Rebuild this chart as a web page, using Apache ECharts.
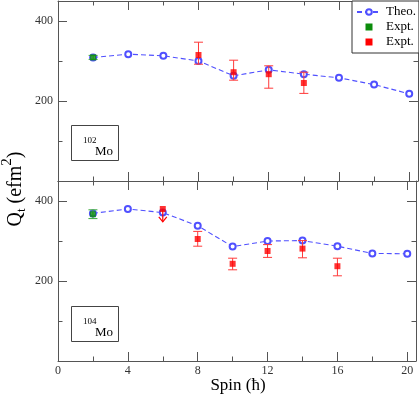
<!DOCTYPE html>
<html>
<head>
<meta charset="utf-8">
<script src="https://cdn.jsdelivr.net/npm/echarts@6/dist/echarts.min.js"></script>
<style>html,body{margin:0;padding:0;background:#fff}#c{width:419px;height:397px}</style>
</head>
<body>
<div id="c"></div>
<script>
// ---- data ----
const spin = [2, 4, 6, 8, 10, 12, 14, 16, 18, 20];
const theo102 = [309, 317, 313, 300, 263, 278, 267, 258, 241, 218];
const theo104 = [369, 380, 371, 338, 286, 300, 301, 287, 269, 268];

const green102X = [2], green102 = [309], green102Lo = [304], green102Hi = [314];
const red102X = [8, 10, 12, 14];
const red102 = [315, 272, 267, 245];
const red102Lo = [292, 252, 232, 219];
const red102Hi = [347, 302, 288, 272];

const green104X = [2], green104 = [367], green104Lo = [356], green104Hi = [378];
const red104X = [6, 8, 10, 12, 14, 16];
const red104 = [380, 305, 243, 275, 281, 237];
const red104ErrX = [8, 10, 12, 14, 16];
const red104Lo = [287, 228, 259, 258, 213];
const red104Hi = [324, 257, 291, 301, 257];
const arrow104X = [6], arrow104From = [380], arrow104To = [348];

const xTickLabels = [0, 4, 8, 12, 16, 20];
const yTickLabels = [200, 400];

// ---- chart ----
const FONT = 'Liberation Serif';
const AX = '#555';
const chart = echarts.init(document.getElementById('c'));

function xAxes(gi, labels) {
  const base = {type: 'value', gridIndex: gi, min: 0, max: 20.5, splitLine: {show: false}};
  return [
    Object.assign({}, base, {position: 'bottom', interval: 4,
      axisLine: {show: true, onZero: false, lineStyle: {color: AX}},
      axisTick: {show: true, inside: true, length: 9, lineStyle: {color: AX}},
      axisLabel: {show: labels, margin: 4, color: '#333', fontSize: 12, fontFamily: FONT,
        formatter: v => xTickLabels.indexOf(v) >= 0 ? String(v) : ''}}),
    Object.assign({}, base, {position: 'bottom', interval: 2,
      axisLine: {show: false, onZero: false}, axisLabel: {show: false},
      axisTick: {show: true, inside: true, length: 4.5, lineStyle: {color: AX}}}),
    Object.assign({}, base, {position: 'top', interval: 4,
      axisLine: {show: true, onZero: false, lineStyle: {color: AX}}, axisLabel: {show: false},
      axisTick: {show: true, inside: true, length: 9, lineStyle: {color: AX}}}),
    Object.assign({}, base, {position: 'top', interval: 2,
      axisLine: {show: false, onZero: false}, axisLabel: {show: false},
      axisTick: {show: true, inside: true, length: 4.5, lineStyle: {color: AX}}})
  ];
}
function yAxes(gi) {
  const base = {type: 'value', gridIndex: gi, min: 0, max: 450, splitLine: {show: false}};
  return [
    Object.assign({}, base, {position: 'left', interval: 200,
      axisLine: {show: true, onZero: false, lineStyle: {color: AX}},
      axisTick: {show: true, inside: true, length: 9, lineStyle: {color: AX}},
      axisLabel: {show: true, margin: 5, color: '#333', fontSize: 12, fontFamily: FONT,
        formatter: v => yTickLabels.indexOf(v) >= 0 ? String(v) : ''}}),
    Object.assign({}, base, {position: 'left', interval: 100,
      axisLine: {show: false, onZero: false}, axisLabel: {show: false},
      axisTick: {show: true, inside: true, length: 4.5, lineStyle: {color: AX}}}),
    Object.assign({}, base, {position: 'right', interval: 200,
      axisLine: {show: true, onZero: false, lineStyle: {color: AX}}, axisLabel: {show: false},
      axisTick: {show: true, inside: true, length: 9, lineStyle: {color: AX}}}),
    Object.assign({}, base, {position: 'right', interval: 100,
      axisLine: {show: false, onZero: false}, axisLabel: {show: false},
      axisTick: {show: true, inside: true, length: 4.5, lineStyle: {color: AX}}})
  ];
}

function errBars(name, xs, lo, hi, color, xi, yi) {
  return {
    type: 'custom', name: name, xAxisIndex: xi, yAxisIndex: yi, z: 3,
    data: xs.map((x, i) => [x, lo[i], hi[i]]),
    encode: {x: 0, y: [1, 2]},
    renderItem: function (params, api) {
      const x = api.value(0);
      const a = api.coord([x, api.value(1)]);
      const b = api.coord([x, api.value(2)]);
      const w = 4.5;
      const st = {stroke: color, lineWidth: 1};
      return {type: 'group', children: [
        {type: 'line', shape: {x1: a[0], y1: a[1], x2: b[0], y2: b[1]}, style: st},
        {type: 'line', shape: {x1: a[0] - w, y1: a[1], x2: a[0] + w, y2: a[1]}, style: st},
        {type: 'line', shape: {x1: b[0] - w, y1: b[1], x2: b[0] + w, y2: b[1]}, style: st}
      ]};
    }
  };
}
function arrows(name, xs, from, to, color, xi, yi) {
  return {
    type: 'custom', name: name, xAxisIndex: xi, yAxisIndex: yi, z: 3,
    data: xs.map((x, i) => [x, from[i], to[i]]),
    encode: {x: 0, y: [1, 2]},
    renderItem: function (params, api) {
      const x = api.value(0);
      const a = api.coord([x, api.value(1)]);
      const b = api.coord([x, api.value(2)]);
      const st = {stroke: color, lineWidth: 1.2, fill: null};
      return {type: 'group', children: [
        {type: 'line', shape: {x1: a[0], y1: a[1], x2: b[0], y2: b[1]}, style: st},
        {type: 'polyline', shape: {points: [[b[0] - 4, b[1] - 5], [b[0], b[1]], [b[0] + 4, b[1] - 5]]}, style: st}
      ]};
    }
  };
}
function theoLine(data, xi, yi) {
  return {
    type: 'line', name: 'Theo.', xAxisIndex: xi, yAxisIndex: yi, z: 2,
    data: spin.map((x, i) => [x, data[i]]),
    symbol: 'emptyCircle', symbolSize: 6,
    lineStyle: {color: '#5050ff', width: 1.1, type: [5, 3]},
    itemStyle: {color: '#5050ff', borderWidth: 1.1},
    emphasis: {disabled: true}
  };
}
function pts(name, xs, ys, color, xi, yi) {
  return {
    type: 'scatter', name: name, xAxisIndex: xi, yAxisIndex: yi, z: 4,
    data: xs.map((x, i) => [x, ys[i]]),
    symbol: 'rect', symbolSize: 6,
    itemStyle: {color: color},
    emphasis: {disabled: true}
  };
}

const xa = xAxes(0, false).concat(xAxes(1, true));
const ya = yAxes(0).concat(yAxes(1));
const RED = '#ff0000', REDE = '#ff3a3a', GRN = '#0b8c0b', GRNE = '#3aaa3a';
const sq = 'path://M0 0H10V10H0Z';

chart.setOption({
  animation: false,
  grid: [
    {left: 58, width: 360, top: 1, height: 180},
    {left: 58, width: 360, top: 181, height: 180}
  ],
  xAxis: xa,
  yAxis: ya,
  legend: {
    left: 352, top: 1, orient: 'vertical',
    padding: [4, 3, 4, 4], itemGap: 1,
    itemWidth: 24, itemHeight: 7,
    backgroundColor: '#fff', borderColor: '#333', borderWidth: 1,
    textStyle: {fontFamily: FONT, fontSize: 13, color: '#000', lineHeight: 14},
    formatter: n => n.trim(),
    data: [
      {name: 'Theo.'},
      {name: 'Expt.', icon: sq, itemStyle: {color: GRN}},
      {name: 'Expt. ', icon: sq, itemStyle: {color: RED}}
    ]
  },
  graphic: [
    {type: 'rect', shape: {x: 71.5, y: 125.5, width: 47, height: 35}, style: {fill: '#fff', stroke: '#444', lineWidth: 1}},
    {type: 'text', x: 83, y: 141, style: {text: '102', font: '9px "Liberation Serif"', fill: '#000', verticalAlign: 'middle'}},
    {type: 'text', x: 95, y: 152, style: {text: 'Mo', font: '13px "Liberation Serif"', fill: '#000', verticalAlign: 'middle'}},
    {type: 'rect', shape: {x: 71.5, y: 306.5, width: 47, height: 35}, style: {fill: '#fff', stroke: '#444', lineWidth: 1}},
    {type: 'text', x: 83, y: 322, style: {text: '104', font: '9px "Liberation Serif"', fill: '#000', verticalAlign: 'middle'}},
    {type: 'text', x: 95, y: 333, style: {text: 'Mo', font: '13px "Liberation Serif"', fill: '#000', verticalAlign: 'middle'}},
    {type: 'text', x: 238, y: 386, style: {text: 'Spin (ħ)', font: '17px "Liberation Serif"', fill: '#000', align: 'center', verticalAlign: 'middle'}},
    {type: 'text', x: 16, y: 189, rotation: Math.PI / 2,
      style: {text: '{m|Q}{s|t}{m| (efm}{p|2}{m|)}', align: 'center', verticalAlign: 'middle', fill: '#000',
        rich: {
          m: {font: '20px "Liberation Serif"', verticalAlign: 'middle', lineHeight: 32, fill: '#000'},
          s: {font: '13px "Liberation Serif"', verticalAlign: 'bottom', lineHeight: 32, fill: '#000', padding: [0, 0, 4, 0]},
          p: {font: '15px "Liberation Serif"', verticalAlign: 'top', lineHeight: 32, fill: '#000'}
        }}}
  ],
  series: [
    theoLine(theo102, 0, 0),
    errBars('Expt.', green102X, green102Lo, green102Hi, GRNE, 0, 0),
    errBars('Expt. ', red102X, red102Lo, red102Hi, REDE, 0, 0),
    pts('Expt.', green102X, green102, GRN, 0, 0),
    pts('Expt. ', red102X, red102, RED, 0, 0),
    theoLine(theo104, 4, 4),
    errBars('Expt.', green104X, green104Lo, green104Hi, GRNE, 4, 4),
    errBars('Expt. ', red104ErrX, red104Lo, red104Hi, REDE, 4, 4),
    arrows('Expt. ', arrow104X, arrow104From, arrow104To, RED, 4, 4),
    pts('Expt.', green104X, green104, GRN, 4, 4),
    pts('Expt. ', red104X, red104, RED, 4, 4)
  ]
});
</script>
</body>
</html>
